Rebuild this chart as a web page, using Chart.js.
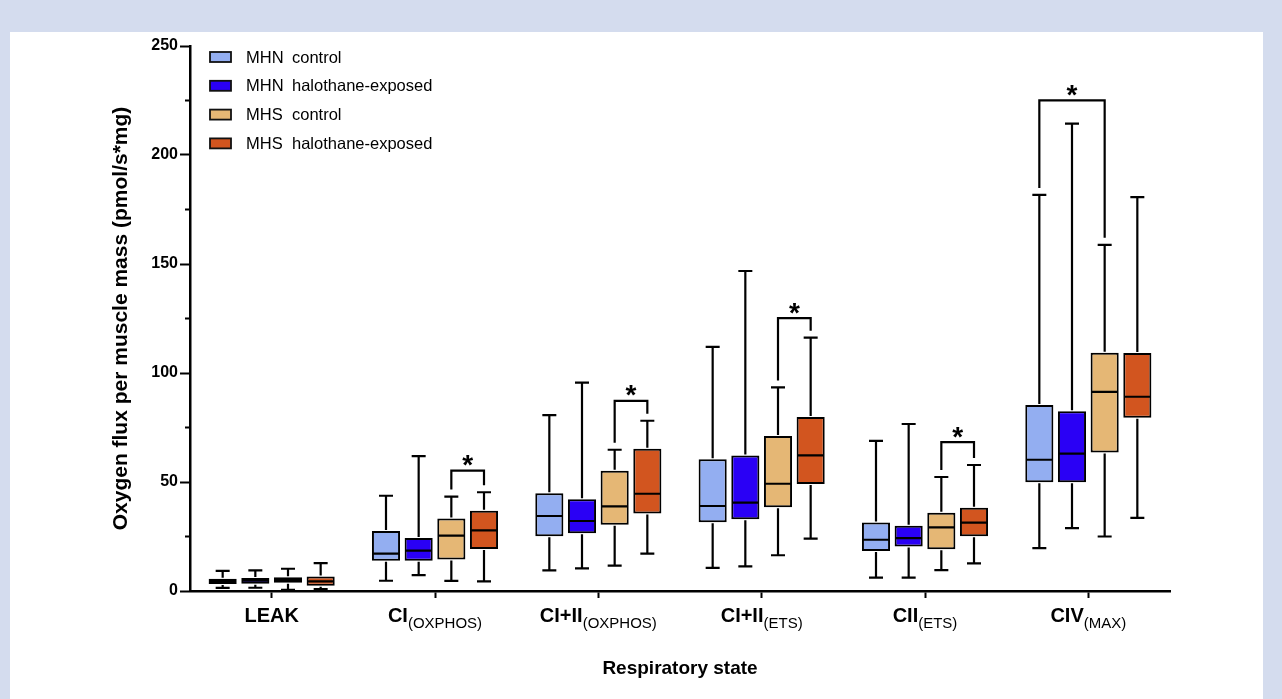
<!DOCTYPE html>
<html>
<head>
<meta charset="utf-8">
<title>Oxygen flux per muscle mass</title>
<script src="https://cdn.jsdelivr.net/npm/chart.js@4.4.1/dist/chart.umd.min.js"></script>
<style>
    html, body { margin: 0; padding: 0; }
    body { background: #d4dcee; width: 1282px; height: 699px; overflow: hidden; position: relative; }
    #panel { position: absolute; left: 10px; top: 32px; width: 1253px; height: 667px; background: #fff; }
</style>
</head>
<body>
<div id="panel"><canvas id="chartCanvas"></canvas></div>
<script>
const FONT = "'Liberation Sans', Arial, Helvetica, sans-serif";

// Respiratory states (main label + subscript)
const categories = ['LEAK', 'CI', 'CI+II', 'CI+II', 'CII', 'CIV'];
const subscripts = ['', '(OXPHOS)', '(OXPHOS)', '(ETS)', '(ETS)', '(MAX)'];

const seriesNames = ['MHN control', 'MHN halothane-exposed', 'MHS control', 'MHS halothane-exposed'];
const seriesColors = ['#93aef1', '#2a00f5', '#e5b775', '#d2551f'];

// [min, q1, median, q3, max] for each respiratory state
const mhnControl = [
    [1.4, 3.2, 4.6, 5.6, 9.2],
    [4.7, 13.9, 17.1, 27.5, 43.7],
    [9.5, 25.1, 34.4, 44.8, 80.7],
    [10.6, 31.5, 39.0, 60.4, 112.0],
    [6.1, 18.3, 23.5, 31.4, 68.9],
    [19.7, 49.9, 60.2, 85.3, 181.7]
];
const mhnHalothane = [
    [1.5, 3.3, 4.7, 6.0, 9.5],
    [7.3, 13.9, 18.5, 24.3, 61.9],
    [10.4, 26.5, 32.1, 42.1, 95.6],
    [11.3, 32.9, 40.5, 62.2, 146.8],
    [6.1, 20.4, 24.3, 29.9, 76.6],
    [28.8, 49.9, 63.0, 82.5, 214.4]
];
const mhsControl = [
    [0.5, 3.8, 5.0, 6.3, 10.2],
    [4.6, 14.4, 25.4, 33.2, 43.3],
    [11.6, 30.4, 38.8, 55.2, 64.8],
    [16.4, 38.4, 49.2, 71.1, 93.4],
    [9.6, 19.1, 29.2, 35.9, 52.3],
    [25.0, 63.5, 91.3, 109.3, 158.8]
];
const mhsHalothane = [
    [0.9, 2.4, 4.4, 6.6, 12.8],
    [4.4, 19.3, 27.8, 36.8, 45.3],
    [17.1, 35.6, 44.6, 65.3, 78.1],
    [24.0, 49.1, 62.2, 79.8, 116.2],
    [12.7, 25.1, 31.4, 38.2, 57.8],
    [33.5, 79.5, 89.1, 109.2, 180.7]
];

// [state index, series A, series B, bracket height]
const significance = [
    [1, 2, 3, 55.2],
    [2, 2, 3, 87.2],
    [3, 2, 3, 125.2],
    [4, 2, 3, 68.3],
    [5, 0, 2, 225.1]
];

const yMinorTicks = [25, 75, 125, 175, 225];

const boxData = [mhnControl, mhnHalothane, mhsControl, mhsHalothane];

const datasets = boxData.map((rows, i) => ({
    label: seriesNames[i],
    data: rows.map(r => [r[1], r[3]]),
    stats: rows,
    backgroundColor: seriesColors[i],
    borderColor: '#000',
    borderWidth: 2,
    borderSkipped: false,
    categoryPercentage: 0.8,
    barPercentage: 0.86
}));

/**
 * Draws median lines and whiskers on top of the floating bars.
 */
const whiskerPlugin = {
    id: 'whiskers',
    afterDatasetsDraw(chart) {
        const ctx = chart.ctx;
        const y = chart.scales.y;
        ctx.save();
        ctx.strokeStyle = '#000';
        ctx.lineWidth = 2.2;
        chart.data.datasets.forEach((ds, d) => {
            chart.getDatasetMeta(d).data.forEach((bar, i) => {
                const [min, q1, med, q3, max] = ds.stats[i];
                const x = bar.x;
                const half = bar.width / 2;
                const cap = 7;
                const yMin = y.getPixelForValue(min);
                const yQ1 = y.getPixelForValue(q1);
                const yMed = y.getPixelForValue(med);
                const yQ3 = y.getPixelForValue(q3);
                const yMax = y.getPixelForValue(max);
                ctx.beginPath();
                ctx.moveTo(x - half + 1, yMed);
                ctx.lineTo(x + half - 1, yMed);
                ctx.moveTo(x, yQ3 - 1);
                ctx.lineTo(x, yMax);
                ctx.moveTo(x - cap, yMax);
                ctx.lineTo(x + cap, yMax);
                ctx.moveTo(x, yQ1 + 1);
                ctx.lineTo(x, yMin);
                ctx.moveTo(x - cap, yMin);
                ctx.lineTo(x + cap, yMin);
                ctx.stroke();
            });
        });
        ctx.restore();
    }
};

/**
 * Significance brackets with asterisks.
 */
const bracketPlugin = {
    id: 'brackets',
    afterDatasetsDraw(chart) {
        const ctx = chart.ctx;
        const y = chart.scales.y;
        ctx.save();
        ctx.strokeStyle = '#000';
        ctx.fillStyle = '#000';
        ctx.lineWidth = 2.2;
        ctx.font = 'bold 28px ' + FONT;
        ctx.textAlign = 'center';
        ctx.textBaseline = 'alphabetic';
        const m = ctx.measureText('*');
        significance.forEach(([cat, a, b, level]) => {
            const barA = chart.getDatasetMeta(a).data[cat];
            const barB = chart.getDatasetMeta(b).data[cat];
            const top = y.getPixelForValue(level);
            const legA = y.getPixelForValue(boxData[a][cat][4]) - 7;
            const legB = y.getPixelForValue(boxData[b][cat][4]) - 7;
            ctx.beginPath();
            ctx.moveTo(barA.x, legA);
            ctx.lineTo(barA.x, top);
            ctx.lineTo(barB.x, top);
            ctx.lineTo(barB.x, legB);
            ctx.stroke();
            const target = top - 10;
            const base = target + (m.actualBoundingBoxAscent - m.actualBoundingBoxDescent) / 2;
            ctx.fillText('*', (barA.x + barB.x) / 2, base);
        });
        ctx.restore();
    }
};

/**
 * Category labels with subscripts, minor y ticks and the legend.
 */
const decorPlugin = {
    id: 'decor',
    afterDraw(chart) {
        const ctx = chart.ctx;
        const area = chart.chartArea;
        const xScale = chart.scales.x;
        const yScale = chart.scales.y;
        ctx.save();

        // minor ticks
        ctx.strokeStyle = '#000';
        ctx.lineWidth = 2;
        ctx.beginPath();
        yMinorTicks.forEach(v => {
            const py = yScale.getPixelForValue(v);
            ctx.moveTo(area.left - 5, py);
            ctx.lineTo(area.left, py);
        });
        ctx.stroke();

        // x labels
        const mainFont = 'bold 20px ' + FONT;
        const subFont = '15px ' + FONT;
        ctx.fillStyle = '#000';
        ctx.textBaseline = 'alphabetic';
        ctx.textAlign = 'left';
        const baseY = area.bottom + 31;
        categories.forEach((label, i) => {
            ctx.font = mainFont;
            const w1 = ctx.measureText(label).width;
            ctx.font = subFont;
            const w2 = subscripts[i] ? ctx.measureText(subscripts[i]).width : 0;
            const cx = xScale.getPixelForValue(i);
            const x0 = cx - (w1 + w2) / 2;
            ctx.font = mainFont;
            ctx.fillText(label, x0, baseY);
            if (subscripts[i]) {
                ctx.font = subFont;
                ctx.fillText(subscripts[i], x0 + w1, baseY + 6);
            }
        });

        // legend
        const lx = area.left + 20;
        const ly = area.top + 11;
        ctx.font = '16.5px ' + FONT;
        ctx.textBaseline = 'middle';
        ctx.lineWidth = 1.8;
        seriesNames.forEach((name, i) => {
            const yc = ly + i * 28.8;
            ctx.fillStyle = seriesColors[i];
            ctx.fillRect(lx, yc - 5, 21, 10);
            ctx.strokeStyle = '#111';
            ctx.strokeRect(lx, yc - 5, 21, 10);
            ctx.fillStyle = '#000';
            const sp = name.indexOf(' ');
            ctx.fillText(name.slice(0, sp), lx + 36, yc + 1);
            ctx.fillText(name.slice(sp + 1), lx + 82, yc + 1);
        });

        ctx.restore();
    }
};

const ctx = document.getElementById('chartCanvas').getContext('2d');
const chart = new Chart(ctx, {
    type: 'bar',
    data: {
        labels: categories.map((c, i) => c + subscripts[i]),
        datasets: datasets
    },
    options: {
        animation: false,
        responsive: true,
        maintainAspectRatio: false,
        layout: {
            padding: { left: 0, top: 14, right: 93, bottom: 0 }
        },
        plugins: {
            legend: { display: false },
            tooltip: { enabled: false }
        },
        scales: {
            x: {
                offset: true,
                grid: {
                    offset: false,
                    drawOnChartArea: false,
                    drawTicks: true,
                    tickLength: 7,
                    tickWidth: 2,
                    tickColor: '#000'
                },
                border: { display: true, color: '#000', width: 2.5 },
                ticks: { display: false },
                title: {
                    display: true,
                    text: 'Respiratory state',
                    color: '#000',
                    font: { family: FONT, size: 19, weight: 'bold' },
                    padding: { top: 0, bottom: 19 }
                },
                afterFit(scale) { scale.height = 108; }
            },
            y: {
                min: 0,
                max: 250,
                grid: {
                    drawOnChartArea: false,
                    drawTicks: true,
                    tickLength: 10,
                    tickWidth: 2,
                    tickColor: '#000'
                },
                border: { display: true, color: '#000', width: 2.5 },
                ticks: {
                    stepSize: 50,
                    padding: 2,
                    color: '#000',
                    font: { family: FONT, size: 16, weight: 'bold' }
                },
                title: {
                    display: true,
                    text: 'Oxygen flux per muscle mass (pmol/s*mg)',
                    color: '#000',
                    font: { family: FONT, size: 21, weight: 'bold' },
                    padding: { top: 99, bottom: 0 }
                },
                afterFit(scale) { scale.width = 180; }
            }
        }
    },
    plugins: [whiskerPlugin, bracketPlugin, decorPlugin]
});
</script>
</body>
</html>
